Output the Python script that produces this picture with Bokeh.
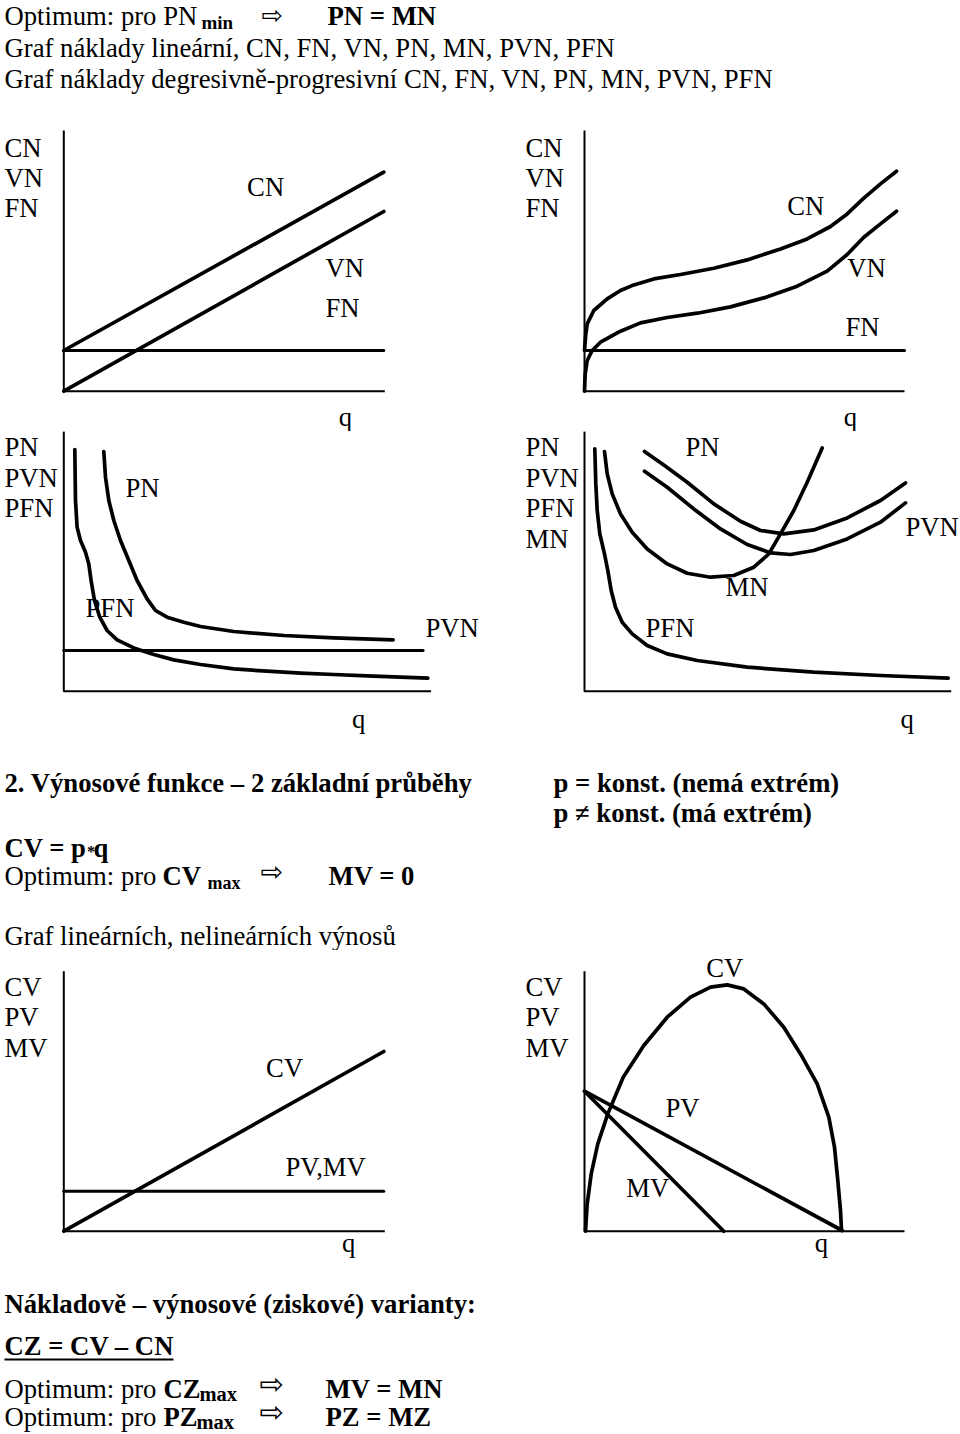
from bokeh.plotting import figure
from bokeh.layouts import column, row
from bokeh.models import Range1d
from bokeh.core.properties import value
from bokeh.embed import file_html
from bokeh.resources import INLINE

SERIF = "Liberation Serif"
ARROW_FONT = "DejaVu Sans"
FS = 26.7       # main text size (px)
FS_STAR = 16.0
ARROW = "\u21e8"
K_BASE = 0.36   # renderer draws alphabetic baseline this many em too low

# ============================ DATA ============================
# values in abstract units (q on x, cost / revenue on y)

# Panel 1 - linear costs
lin_q = [0.0, 32.0]
lin_fn = [4.07, 4.07]
lin_vn = [0.0, 17.97]
lin_cn = [4.07, 21.9]
lin_axis = (32.1, 26.07)
lin_lbl_text = ["CN", "VN", "FN", "CN", "VN", "FN", "q"]
lin_lbl_q = [-5.93, -5.93, -5.93, 18.33, 26.17, 26.17, 27.5]
lin_lbl_v = [23.4, 20.4, 17.4, 19.47, 11.4, 7.4, -3.53]

# Panel 2 - degressive-progressive costs
dp_fn_q = [0.0, 32.0]
dp_fn = [4.07, 4.07]
dp_cn_q = [0, 0.13, 0.27, 0.93, 2.27, 3.6, 4.93, 6.93, 9.6, 12.93, 16.27, 19.6, 22.27, 24.6, 26.27, 27.93, 29.6, 31.2]
dp_cn = [4.07, 5.73, 6.73, 8.07, 9.23, 10.07, 10.63, 11.23, 11.67, 12.3, 13.13, 14.23, 15.23, 16.47, 17.73, 19.3, 20.73, 22.0]
dp_vn_q = [0, 0.07, 0.27, 0.77, 1.6, 3.6, 5.6, 8.27, 11.27, 14.6, 17.93, 21.27, 24.27, 26.27, 27.93, 29.6, 31.2]
dp_vn = [0, 1.73, 3.07, 4.07, 4.9, 6.0, 6.83, 7.37, 7.8, 8.43, 9.33, 10.5, 12.0, 13.67, 15.4, 16.73, 18.0]
dp_axis = (32.0, 26.07)
dp_lbl_text = ["CN", "VN", "FN", "CN", "VN", "FN", "q"]
dp_lbl_q = [-5.9, -5.9, -5.9, 20.27, 26.27, 26.1, 25.93]
dp_lbl_v = [23.4, 20.4, 17.4, 17.57, 11.4, 5.47, -3.53]

# Panel 3 - unit costs, linear case
ul_pvn_q = [0.0, 35.93]
ul_pvn = [4.07, 4.07]
ul_pfn_q = [1.1, 1.17, 1.33, 1.67, 2.17, 2.5, 2.73, 3.07, 3.6, 4.33, 5.33, 7.0, 9.0, 11.0, 13.67, 17.0, 20.33, 23.67, 27.0, 30.33, 33.67, 36.4]
ul_pfn = [24.17, 19.07, 16.4, 15.07, 13.9, 12.73, 11.07, 9.07, 7.4, 6.07, 5.13, 4.33, 3.67, 3.13, 2.67, 2.23, 2.0, 1.8, 1.67, 1.53, 1.4, 1.3]
ul_pn_q = [4.0, 4.17, 4.5, 5.0, 5.67, 6.5, 7.33, 8.33, 9.17, 10.33, 12.0, 13.67, 17.0, 22.0, 27.0, 32.93]
ul_pn = [23.97, 21.4, 19.07, 17.07, 15.07, 13.07, 11.07, 9.23, 8.07, 7.4, 6.9, 6.47, 5.97, 5.57, 5.33, 5.13]
ul_axis = (36.73, 26.0)
ul_lbl_text = ["PN", "PVN", "PFN", "PN", "PFN", "PVN", "q"]
ul_lbl_q = [-5.93, -5.93, -5.93, 6.17, 2.17, 36.17, 28.83]
ul_lbl_v = [23.47, 20.4, 17.33, 19.4, 7.4, 5.4, -3.77]

# Panel 4 - unit costs, degressive-progressive case
ud_pfn_q = [1.03, 1.13, 1.27, 1.53, 2.0, 2.33, 2.67, 3.1, 3.77, 4.77, 6.27, 8.27, 11.27, 16.27, 22.93, 29.6, 36.37]
ud_pfn = [24.23, 20.73, 18.07, 15.73, 13.73, 12.07, 10.07, 8.4, 6.9, 5.73, 4.57, 3.73, 3.07, 2.4, 1.9, 1.57, 1.3]
ud_mn_q = [2.0, 2.27, 2.77, 3.6, 4.77, 6.27, 8.27, 10.27, 12.6, 14.93, 16.93, 18.43, 19.6, 20.93, 22.27, 23.77]
ud_mn = [23.97, 21.73, 19.73, 17.73, 15.9, 14.23, 12.73, 11.8, 11.4, 11.57, 12.4, 13.73, 15.73, 18.07, 20.9, 24.33]
ud_pn_q = [6.0, 7.93, 10.27, 12.93, 15.6, 17.6, 19.93, 22.93, 26.27, 29.6, 32.1]
ud_pn = [23.97, 22.63, 20.9, 18.73, 17.0, 16.07, 15.73, 16.13, 17.33, 19.07, 20.83]
ud_pvn_q = [6.0, 8.27, 10.93, 13.6, 16.27, 18.6, 20.6, 22.93, 26.27, 29.6, 32.1]
ud_pvn = [22.0, 20.4, 18.23, 16.23, 14.67, 13.83, 13.67, 14.07, 15.23, 16.9, 18.83]
ud_axis = (36.67, 26.0)
ud_lbl_text = ["PN", "PVN", "PFN", "MN", "PN", "PVN", "MN", "PFN", "q"]
ud_lbl_q = [-5.9, -5.9, -5.9, -5.9, 10.1, 32.1, 14.1, 6.1, 31.6]
ud_lbl_v = [23.47, 20.4, 17.33, 14.3, 23.47, 15.47, 9.47, 5.4, -3.77]

# Panel 5 - linear revenues
rl_q = [0.0, 32.0]
rl_pvmv = [4.0, 4.0]
rl_cv = [0.0, 17.97]
rl_axis = (32.1, 26.0)
rl_lbl_text = ["CV", "PV", "MV", "CV", "PV,MV", "q"]
rl_lbl_q = [-5.93, -5.93, -5.93, 20.23, 22.17, 27.83]
rl_lbl_v = [23.47, 20.47, 17.33, 15.4, 5.47, -2.1]

# Panel 6 - nonlinear revenues
rn_cv_q = [0.1, 0.27, 0.67, 1.33, 2.33, 3.87, 5.93, 8.27, 10.6, 12.6, 14.27, 15.93, 17.93, 19.93, 21.6, 23.27, 24.43, 25.0, 25.33, 25.6, 25.7]
rn_cv = [0, 2.73, 5.73, 8.73, 11.73, 15.4, 18.57, 21.4, 23.4, 24.4, 24.63, 24.23, 22.73, 20.4, 17.73, 14.73, 11.4, 8.4, 5.07, 2.07, 0.07]
rn_pv_q = [0.0, 25.77]
rn_pv = [14.0, 0.07]
rn_mv_q = [0.0, 13.93]
rn_mv = [14.0, 0.0]
rn_axis = (32.0, 26.0)
rn_lbl_text = ["CV", "PV", "MV", "CV", "PV", "MV", "q"]
rn_lbl_q = [-5.9, -5.9, -5.9, 12.17, 8.1, 4.17, 23.03]
rn_lbl_v = [23.47, 20.47, 17.33, 25.4, 11.4, 3.33, -2.1]

# Page texts (x, baseline y in page pixels)
head_reg = ["Optimum: pro PN", "Graf náklady lineární, CN, FN, VN, PN, MN, PVN, PFN",
            "Graf náklady degresivně-progresivní CN, FN, VN, PN, MN, PVN, PFN"]
head_reg_x = [4, 4, 4]
head_reg_y = [25.5, 57, 88]
head_bold = ["PN = MN"]
head_bold_x = [327]
head_bold_y = [25.5]
head_sub = ["min"]
head_sub_x = [201]
head_sub_y = [28.5]
head_sub_size = 19.0
head_arrow_x = [261]
head_arrow_c = [16.7]
head_arrow_size = 25.5

mid_bold = ["2. Výnosové funkce – 2 základní průběhy", "p = konst. (nemá extrém)",
            "p ≠ konst. (má extrém)", "CV = p", "q", "CV", "MV = 0"]
mid_bold_x = [4, 553, 553, 4, 93, 162, 328]
mid_bold_y = [792.5, 792.5, 822, 857, 857, 885, 885]
mid_star = ["*"]
mid_star_x = [86.5]
mid_star_y = [857]
mid_sub = ["max"]
mid_sub_x = [207]
mid_sub_y = [888.5]
mid_sub_size = 18.0
mid_reg = ["Optimum: pro", "Graf lineárních, nelineárních výnosů"]
mid_reg_x = [4, 4]
mid_reg_y = [885, 945]
mid_arrow_x = [260]
mid_arrow_c = [873]
mid_arrow_size = 27.0

foot_bold = ["Nákladově – výnosové (ziskové) varianty:", "CZ = CV – CN", "CZ", "MV = MN", "PZ", "PZ = MZ"]
foot_bold_x = [4, 4, 163, 325, 163, 325]
foot_bold_y = [1313, 1355, 1398, 1398, 1426, 1426]
foot_reg = ["Optimum: pro", "Optimum: pro"]
foot_reg_x = [4, 4]
foot_reg_y = [1398, 1426]
foot_sub = ["max", "max"]
foot_sub_x = [199, 196]
foot_sub_y = [1401, 1428.5]
foot_sub_size = 20.5
foot_arrow_x = [259, 259]
foot_arrow_c = [1386, 1414]
foot_arrow_size = 29.0
underline_x = [4, 173]
underline_y = [1359, 1359]

# ============================ LAYOUT ============================
UNIT = 10.0  # pixels per data unit
PAGE_W = 960


def base_fig(w, h, xr, yr):
    p = figure(width=w, height=h, x_range=Range1d(*xr), y_range=Range1d(*yr),
               x_axis_type=None, y_axis_type=None, toolbar_location=None,
               output_backend="svg", min_border=0)
    p.outline_line_color = None
    p.background_fill_color = "white"
    p.border_fill_color = "white"
    return p


def panel(left, top, w, h, ox, oy):
    xr = ((left - ox) / UNIT, (left + w - ox) / UNIT)
    yr = ((oy - (top + h)) / UNIT, (oy - top) / UNIT)
    return base_fig(w, h, xr, yr)


def text_fig(top, h):
    return base_fig(PAGE_W, h, (0, PAGE_W), (top + h, top))


def put_text(p, xs, ys, texts, font=SERIF, size=FS, style="normal", unit=None):
    # unit=None: page figure (y grows downward); otherwise panel data units (y grows upward)
    d = K_BASE * size
    if unit is None:
        ys = [y - d for y in ys]
    else:
        ys = [y + d / unit for y in ys]
    p.text(x=xs, y=ys, text=texts, text_font=value(font), text_font_size=f"{size}px",
           text_font_style=style, text_align="left", text_baseline="alphabetic",
           text_color="black")


def put_arrows(p, xs, centers, size):
    base = [c + 0.29 * size for c in centers]
    put_text(p, xs, base, [ARROW] * len(xs), font=ARROW_FONT, size=size)


def axes(p, ext):
    p.line([0, 0, ext[0]], [ext[1], 0, 0], line_color="black", line_width=2)


def curve(p, q, v, w=3.7):
    p.line(q, v, line_color="black", line_width=w, line_join="round", line_cap="round")


# Header
head = text_fig(0, 115)
put_text(head, head_reg_x, head_reg_y, head_reg)
put_text(head, head_bold_x, head_bold_y, head_bold, style="bold")
put_text(head, head_sub_x, head_sub_y, head_sub, size=head_sub_size, style="bold")
put_arrows(head, head_arrow_x, head_arrow_c, head_arrow_size)

# Row A
p1 = panel(0, 115, 480, 316, 63.3, 390.7)
axes(p1, lin_axis)
curve(p1, lin_q, lin_fn, 3)
curve(p1, lin_q, lin_cn)
curve(p1, lin_q, lin_vn)
put_text(p1, lin_lbl_q, lin_lbl_v, lin_lbl_text, unit=UNIT)

p2 = panel(480, 115, 480, 316, 584, 390.7)
axes(p2, dp_axis)
curve(p2, dp_fn_q, dp_fn, 3)
curve(p2, dp_cn_q, dp_cn)
curve(p2, dp_vn_q, dp_vn)
put_text(p2, dp_lbl_q, dp_lbl_v, dp_lbl_text, unit=UNIT)

# Row B
p3 = panel(0, 431, 480, 309, 63.3, 690.7)
axes(p3, ul_axis)
curve(p3, ul_pvn_q, ul_pvn, 3)
curve(p3, ul_pfn_q, ul_pfn)
curve(p3, ul_pn_q, ul_pn)
put_text(p3, ul_lbl_q, ul_lbl_v, ul_lbl_text, unit=UNIT)

p4 = panel(480, 431, 480, 309, 584, 690.7)
axes(p4, ud_axis)
curve(p4, ud_pfn_q, ud_pfn)
curve(p4, ud_mn_q, ud_mn)
curve(p4, ud_pn_q, ud_pn)
curve(p4, ud_pvn_q, ud_pvn)
put_text(p4, ud_lbl_q, ud_lbl_v, ud_lbl_text, unit=UNIT)

# Middle text
mid = text_fig(740, 210)
put_text(mid, mid_bold_x, mid_bold_y, mid_bold, style="bold")
put_text(mid, mid_star_x, mid_star_y, mid_star, size=FS_STAR, style="bold")
put_text(mid, mid_sub_x, mid_sub_y, mid_sub, size=mid_sub_size, style="bold")
put_text(mid, mid_reg_x, mid_reg_y, mid_reg)
put_arrows(mid, mid_arrow_x, mid_arrow_c, mid_arrow_size)

# Row C
p5 = panel(0, 950, 480, 312, 63.3, 1230.7)
axes(p5, rl_axis)
curve(p5, rl_q, rl_pvmv, 3)
curve(p5, rl_q, rl_cv)
put_text(p5, rl_lbl_q, rl_lbl_v, rl_lbl_text, unit=UNIT)

p6 = panel(480, 950, 480, 312, 584, 1230.7)
axes(p6, rn_axis)
curve(p6, rn_cv_q, rn_cv)
curve(p6, rn_pv_q, rn_pv)
curve(p6, rn_mv_q, rn_mv)
put_text(p6, rn_lbl_q, rn_lbl_v, rn_lbl_text, unit=UNIT)

# Footer
foot = text_fig(1262, 172)
put_text(foot, foot_bold_x, foot_bold_y, foot_bold, style="bold")
put_text(foot, foot_reg_x, foot_reg_y, foot_reg)
put_text(foot, foot_sub_x, foot_sub_y, foot_sub, size=foot_sub_size, style="bold")
put_arrows(foot, foot_arrow_x, foot_arrow_c, foot_arrow_size)
foot.line(underline_x, underline_y, line_color="black", line_width=2)

layout = column(head, row(p1, p2), row(p3, p4), mid, row(p5, p6), foot)

open("out.html", "w").write(file_html(layout, INLINE))
